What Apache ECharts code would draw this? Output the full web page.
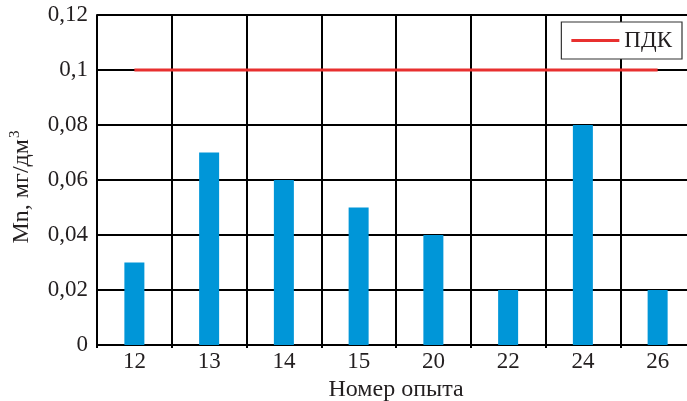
<!DOCTYPE html>
<html>
<head>
<meta charset="utf-8">
<script src="https://cdn.jsdelivr.net/npm/echarts@6/dist/echarts.min.js"></script>
<style>
  html, body { margin: 0; padding: 0; background: #fff; }
  #chart { width: 687px; height: 401px; }
</style>
</head>
<body>
<div id="chart"></div>
<script>
// Experiment numbers along the x axis
const experiments = ['12', '13', '14', '15', '20', '22', '24', '26'];
// Manganese concentration, mg/dm³
const mnValues = [0.03, 0.07, 0.06, 0.05, 0.04, 0.02, 0.08, 0.02];
// Maximum permissible concentration (ПДК)
const pdkLevel = 0.1;
const pdkValues = experiments.map(() => pdkLevel);

const font = '"Liberation Serif", "DejaVu Serif", serif';
const ink = '#231f20';

const chart = echarts.init(document.getElementById('chart'));
chart.setOption({
  animation: false,
  textStyle: { fontFamily: font, color: ink },
  grid: {
    left: 97, top: 15, width: 598, height: 330,
    containLabel: false,
    outerBoundsMode: 'none'
  },
  legend: {
    right: 5, top: 22,
    data: [{ name: 'ПДК', icon: 'rect' }],
    itemWidth: 48, itemHeight: 3, itemGap: 6,
    padding: [7, 10, 7, 10],
    borderColor: '#333', borderWidth: 1.2, borderRadius: 0,
    backgroundColor: '#fff',
    textStyle: { fontFamily: font, fontSize: 23, color: ink }
  },
  xAxis: {
    type: 'category',
    data: experiments,
    boundaryGap: true,
    name: 'Номер опыта',
    nameLocation: 'middle',
    nameGap: 28,
    nameTextStyle: { fontFamily: font, fontSize: 24, color: ink },
    axisLine: { lineStyle: { color: '#000', width: 2 } },
    axisTick: { show: true, length: 3, lineStyle: { color: '#000', width: 2 } },
    axisLabel: { fontFamily: font, fontSize: 23, color: ink, margin: 5 },
    splitLine: { show: true, lineStyle: { color: '#000', width: 2 } }
  },
  yAxis: {
    type: 'value',
    min: 0, max: 0.12, interval: 0.02,
    name: '{t|Mn, мг/дм}{sup|3}',
    nameLocation: 'middle',
    nameGap: 62,
    nameRotate: 90,
    nameTextStyle: {
      fontFamily: font, fontSize: 24, color: ink,
      padding: [0, 14, 0, 0],
      rich: {
        t: { fontFamily: font, fontSize: 24, color: ink },
        sup: { fontFamily: font, fontSize: 15, color: ink, verticalAlign: 'top', padding: [0, 0, 12, 1] }
      }
    },
    axisLine: { show: true, lineStyle: { color: '#000', width: 2 } },
    axisTick: { show: false },
    axisLabel: {
      fontFamily: font, fontSize: 23, color: ink, margin: 9,
      formatter: v => String(parseFloat(v.toFixed(2))).replace('.', ',')
    },
    splitLine: { show: true, lineStyle: { color: '#000', width: 2 } }
  },
  series: [
    {
      name: 'Mn',
      type: 'bar',
      data: mnValues,
      barWidth: 20,
      itemStyle: { color: '#0096d8' },
      z: 2
    },
    {
      name: 'ПДК',
      type: 'line',
      data: pdkValues,
      symbol: 'none',
      lineStyle: { color: '#e8302f', width: 3 },
      itemStyle: { color: '#e8302f' },
      z: 3
    }
  ]
});
</script>
</body>
</html>
